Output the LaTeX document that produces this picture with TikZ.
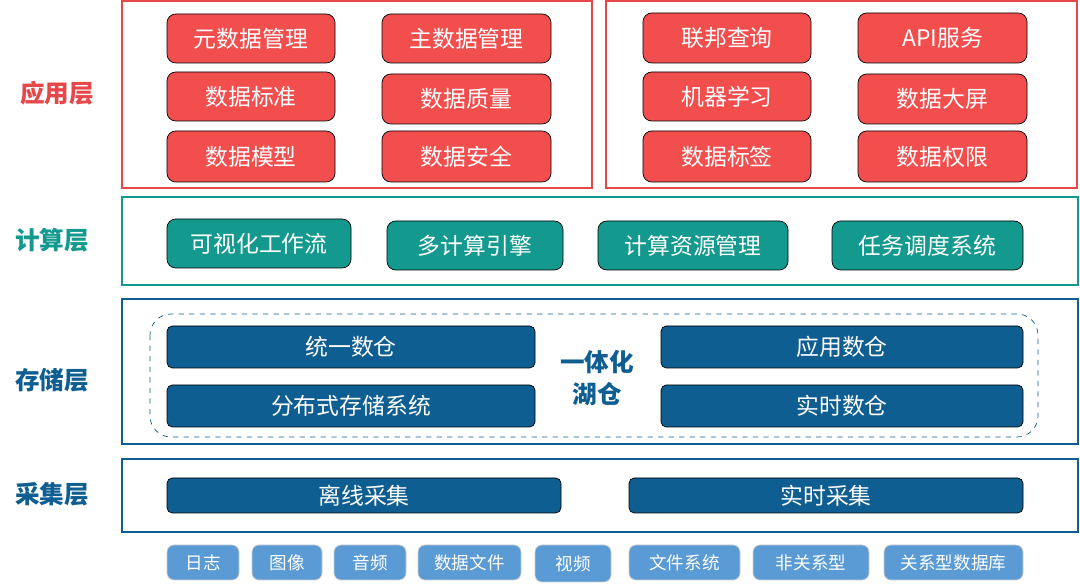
\documentclass[tikz,border=0pt]{standalone}
\usepackage{fontspec}
\newfontfamily\cjk{Noto Sans CJK SC}
\usetikzlibrary{positioning}
\definecolor{appred}{HTML}{F24E4E}
\definecolor{appframe}{HTML}{E8474A}
\definecolor{calcteal}{HTML}{14998F}
\definecolor{storeblue}{HTML}{0F5E91}
\definecolor{srcblue}{HTML}{5B9BD5}
\tikzset{
  layer/.style={font=\cjk\bfseries\fontsize{14}{16}\selectfont},
  frame/.style={draw, line width=1pt},
  btn/.style={rounded corners=5pt, text=white, font=\cjk\fontsize{13}{15}\selectfont},
  bar/.style={rounded corners=3pt, fill=storeblue, text=white, font=\cjk\fontsize{13}{15}\selectfont},
  src/.style={rounded corners=4pt, fill=srcblue, draw=gray!40, text=white, font=\cjk\fontsize{10}{12}\selectfont},
}
% box from pixel corners
\newcommand{\pbox}[6]{\path[#1] (#2,#3) rectangle node[pos=.5] (#6) {#5} (#4,#5);}
\newcommand{\pnode}[7]{\draw[#1] (#2,#3) rectangle (#4,#5); \node[#1, fill=none, draw=none] (#6) at ({(#2+#4)/2},{(#3+#5)/2}) {#7};}
\begin{document}
\begin{tikzpicture}[x=0.02cm,y=-0.02cm]
\useasboundingbox (0,0) rectangle (1080,587);

% layer labels
\node[layer, text=appframe] (lapp) at (57,93) {应用层};
\node[layer, text=calcteal] (lcalc) at (52,240) {计算层};
\node[layer, text=storeblue] (lstore) at (52,380) {存储层};
\node[layer, text=storeblue] (lsrc) at (52,494) {采集层};

% frames
\draw[frame, draw=appframe] (122,1) rectangle (592,188);
\draw[frame, draw=appframe] (606,1) rectangle (1077,188);
\draw[frame, draw=calcteal] (122,197) rectangle (1078,285);
\draw[frame, draw=storeblue] (122,299) rectangle (1078,444);
\draw[frame, draw=storeblue] (122,459) rectangle (1078,532);
\draw[storeblue, dashed, rounded corners=12pt] (150,314) rectangle (1038,437);

% application layer
\pnode{btn, fill=appred}{167}{14}{335}{63}{meta}{元数据管理}
\pnode{btn, fill=appred}{382}{14}{551}{63}{master}{主数据管理}
\pnode{btn, fill=appred}{167}{72}{335}{121}{std}{数据标准}
\pnode{btn, fill=appred}{382}{74}{551}{124}{quality}{数据质量}
\pnode{btn, fill=appred}{167}{131}{335}{182}{model}{数据模型}
\pnode{btn, fill=appred}{382}{131}{551}{182}{secure}{数据安全}
\pnode{btn, fill=appred}{643}{13}{811}{63}{fed}{联邦查询}
\pnode{btn, fill=appred}{858}{13}{1027}{63}{api}{API服务}
\pnode{btn, fill=appred}{643}{72}{811}{121}{ml}{机器学习}
\pnode{btn, fill=appred}{858}{74}{1027}{124}{screen}{数据大屏}
\pnode{btn, fill=appred}{643}{131}{811}{182}{tag}{数据标签}
\pnode{btn, fill=appred}{858}{131}{1027}{182}{perm}{数据权限}

% compute layer
\pnode{btn, fill=calcteal}{167}{219}{351}{268}{flow}{可视化工作流}
\pnode{btn, fill=calcteal}{387}{221}{563}{270}{engine}{多计算引擎}
\pnode{btn, fill=calcteal}{598}{221}{788}{270}{res}{计算资源管理}
\pnode{btn, fill=calcteal}{832}{221}{1023}{270}{sched}{任务调度系统}

% storage layer
\pnode{bar}{167}{326}{535}{368}{dw}{统一数仓}
\pnode{bar}{167}{385}{535}{427}{dfs}{分布式存储系统}
\pnode{bar}{661}{326}{1023}{368}{appdw}{应用数仓}
\pnode{bar}{661}{385}{1023}{427}{rtdw}{实时数仓}
\node[text=storeblue, font=\cjk\bfseries\fontsize{14}{18}\selectfont, align=center] (lake) at (597,378) {一体化\\湖仓};

% collection layer
\pnode{bar}{167}{478}{561}{513}{offline}{离线采集}
\pnode{bar}{629}{478}{1023}{513}{online}{实时采集}

% sources
\pnode{src}{167}{545}{239}{580}{log}{日志}
\pnode{src}{252}{545}{322}{580}{img}{图像}
\pnode{src}{334}{545}{406}{580}{audio}{音频}
\pnode{src}{418}{545}{521}{580}{file}{数据文件}
\pnode{src}{535}{545}{611}{582}{video}{视频}
\pnode{src}{629}{545}{740}{580}{fs}{文件系统}
\pnode{src}{753}{545}{869}{580}{nosql}{非关系型}
\pnode{src}{884}{545}{1023}{580}{sql}{关系型数据库}
\end{tikzpicture}
\end{document}
